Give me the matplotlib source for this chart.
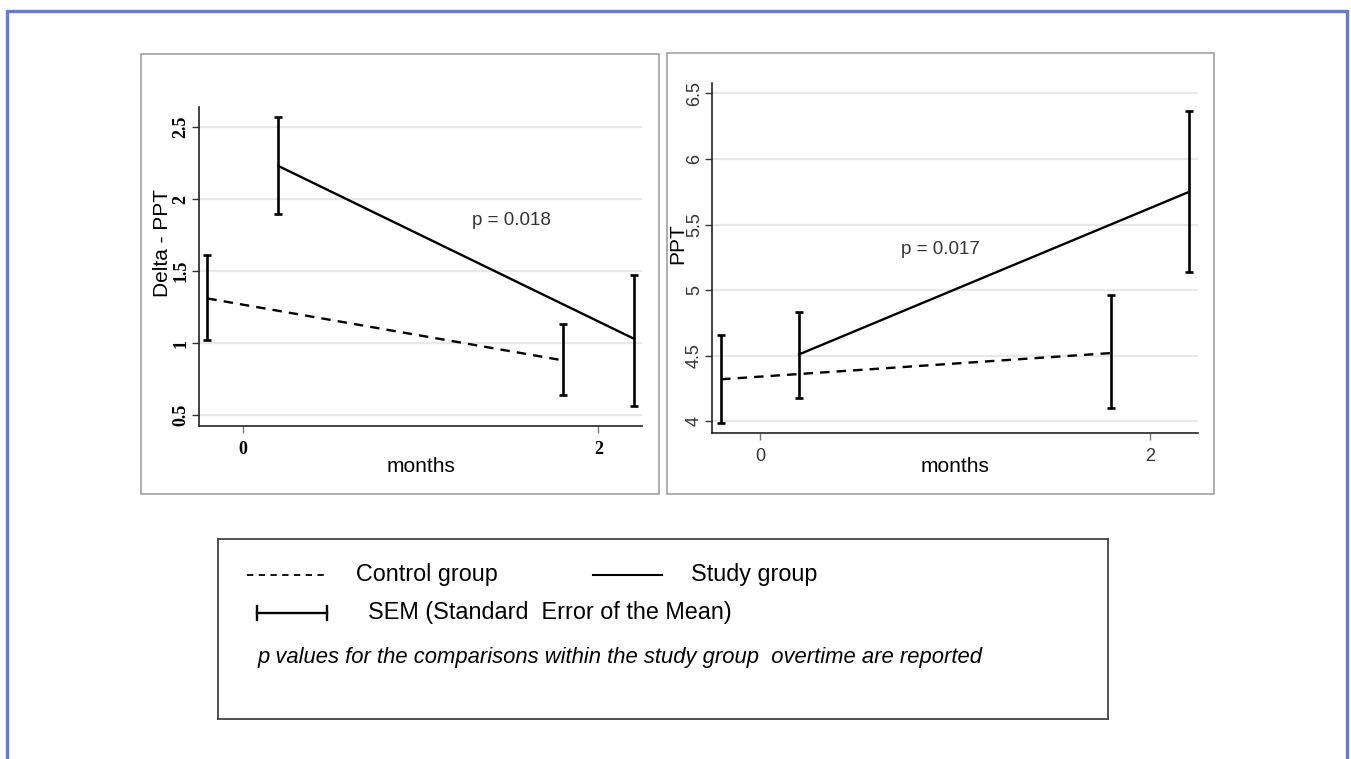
import numpy as np
import matplotlib
matplotlib.use("Agg")
import matplotlib.pyplot as plt
from matplotlib.patches import Rectangle
from matplotlib.lines import Line2D

plt.rcParams['font.family'] = ['Liberation Sans', 'DejaVu Sans']

months = [0, 2]
shift = 0.2  # control drawn just left of the month, study just right

# left panel: Delta - PPT
delta_ctrl = [1.31, 0.88]
delta_ctrl_lo = [1.02, 0.64]
delta_ctrl_hi = [1.61, 1.13]
delta_study = [2.23, 1.03]
delta_study_lo = [1.90, 0.56]
delta_study_hi = [2.57, 1.47]
delta_ticks = [0.5, 1, 1.5, 2, 2.5]
delta_ticklabels = ["0.5", "1", "1.5", "2", "2.5"]

# right panel: PPT
ppt_ctrl = [4.32, 4.52]
ppt_ctrl_lo = [3.99, 4.10]
ppt_ctrl_hi = [4.66, 4.96]
ppt_study = [4.51, 5.75]
ppt_study_lo = [4.18, 5.14]
ppt_study_hi = [4.83, 6.37]
ppt_ticks = [4, 4.5, 5, 5.5, 6, 6.5]
ppt_ticklabels = ["4", "4.5", "5", "5.5", "6", "6.5"]

W, H = 1351, 759


def px_rect(x0, y0, x1, y1):
    # figure pixel box (y from top) -> [left, bottom, width, height]
    return [x0 / W, 1 - y1 / H, (x1 - x0) / W, (y1 - y0) / H]


def draw_panel(ax, ctrl, clo, chi, study, slo, shi):
    x = np.array(months, dtype=float)
    ctrl, clo, chi = map(np.array, (ctrl, clo, chi))
    study, slo, shi = map(np.array, (study, slo, shi))
    ax.plot(x - shift, ctrl, color='k', lw=1.7, dashes=(4, 3))
    ax.errorbar(x - shift, ctrl, yerr=[ctrl - clo, chi - ctrl], fmt='none',
                ecolor='k', elinewidth=1.9, capsize=2.6, capthick=1.9)
    ax.plot(x + shift, study, color='k', lw=1.7)
    ax.errorbar(x + shift, study, yerr=[study - slo, shi - study], fmt='none',
                ecolor='k', elinewidth=1.9, capsize=2.6, capthick=1.9)
    ax.yaxis.grid(True, color='#e8e8e8', lw=1.6)
    ax.set_axisbelow(True)
    for s in ['top', 'right']:
        ax.spines[s].set_visible(False)
    for s in ['left', 'bottom']:
        ax.spines[s].set_color('#222222')
        ax.spines[s].set_linewidth(1.2)
    ax.set_xticks(months)
    ax.set_xlim(-0.247, 2.245)
    ax.tick_params(axis='x', length=5, width=1, color='#777777', pad=6)
    ax.tick_params(axis='y', length=5, width=1, color='#333333', pad=2)


fig = plt.figure(figsize=(W / 100, H / 100), dpi=100)

# outer blue frame and panel boxes
fig.patches.append(Rectangle((7 / W, -0.02), 1340 / W, 1.02 - 11 / H,
                             transform=fig.transFigure, fill=False,
                             edgecolor='#6a7cc6', lw=2.4))
for box in [(141, 54, 659, 494), (667, 53, 1214, 494)]:
    l, b, w, h = px_rect(*box)
    fig.patches.append(Rectangle((l, b), w, h, transform=fig.transFigure,
                                 fill=False, edgecolor='#999999', lw=1.1))

# left panel
ax1 = fig.add_axes(px_rect(199, 107, 642, 426))
draw_panel(ax1, delta_ctrl, delta_ctrl_lo, delta_ctrl_hi,
           delta_study, delta_study_lo, delta_study_hi)
ax1.set_ylim(0.424, 2.64)
ax1.set_yticks(delta_ticks)
ax1.set_yticklabels(delta_ticklabels, rotation=90, va='center',
                    family='Liberation Serif', fontsize=13, weight='bold')
ax1.set_xticklabels(["0", "2"], family='Liberation Serif', fontsize=13,
                    weight='bold')
ax1.set_ylabel("Delta - PPT", fontsize=15)
ax1.yaxis.set_label_coords(-0.061, 0.574)
ax1.set_xlabel("months", fontsize=15)
ax1.xaxis.label.set_verticalalignment('center')
ax1.xaxis.set_label_coords(0.5, -0.128)
ax1.text(1.29, 1.85, "p = 0.018", fontsize=13.5, color='#333333', va='center')

# right panel
ax2 = fig.add_axes(px_rect(712, 83, 1198, 433))
draw_panel(ax2, ppt_ctrl, ppt_ctrl_lo, ppt_ctrl_hi,
           ppt_study, ppt_study_lo, ppt_study_hi)
ax2.set_ylim(3.91, 6.58)
ax2.set_yticks(ppt_ticks)
ax2.set_yticklabels(ppt_ticklabels, rotation=90, va='center', fontsize=13,
                    color='#333333')
ax2.set_xticklabels(["0", "2"], fontsize=13, color='#333333')
ax2.tick_params(axis='y', pad=1.5)
ax2.set_ylabel("PPT", fontsize=15)
ax2.yaxis.set_label_coords(-0.05, 0.54)
ax2.set_xlabel("months", fontsize=15)
ax2.xaxis.label.set_verticalalignment('center')
ax2.xaxis.set_label_coords(0.5, -0.097)
ax2.text(0.72, 5.31, "p = 0.017", fontsize=13.5, color='#333333', va='center')

# legend box (drawn by hand, coordinates in figure pixels inside the box)
lg = fig.add_axes(px_rect(218, 539, 1108, 719))
lg.set_xlim(218, 1108)
lg.set_ylim(719, 539)
lg.set_xticks([])
lg.set_yticks([])
for s in lg.spines.values():
    s.set_color('#444444')
    s.set_linewidth(1.3)

lg.add_line(Line2D([247, 325], [575, 575], color='k', lw=1.3, dashes=(3.5, 3)))
lg.text(356, 575, "Control group", fontsize=16.8, va='center')
lg.add_line(Line2D([593, 662], [575, 575], color='k', lw=1.5))
lg.text(691, 575, "Study group", fontsize=16.8, va='center')
lg.add_line(Line2D([257, 327], [613, 613], color='k', lw=1.7))
lg.add_line(Line2D([257, 257], [606, 620], color='k', lw=1.7))
lg.add_line(Line2D([327, 327], [606, 620], color='k', lw=1.7))
lg.text(368, 613, "SEM (Standard  Error of the Mean)", fontsize=16.8, va='center')
lg.text(258, 658, "p values for the comparisons within the study group  overtime are reported",
        fontsize=15.8, style='italic', va='center')

fig.savefig("out.png", dpi=100)
